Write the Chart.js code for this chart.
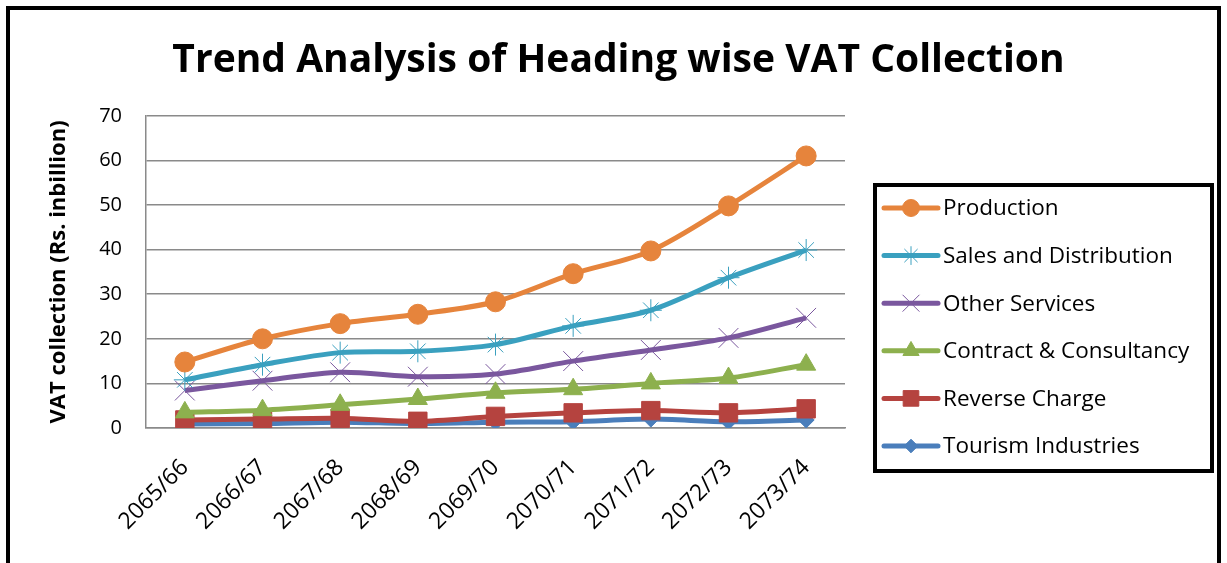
<!DOCTYPE html>
<html>
<head>
<meta charset="utf-8">
<script src="https://cdn.jsdelivr.net/npm/chart.js@4/dist/chart.umd.min.js"></script>
<style>
  html, body { margin: 0; padding: 0; background: #ffffff; }
  #wrap { width: 1227px; height: 563px; position: relative; }
</style>
</head>
<body>
<div id="wrap"><canvas id="c" width="1227" height="563"></canvas></div>
<script>
const categories = ['2065/66', '2066/67', '2067/68', '2068/69', '2069/70', '2070/71', '2071/72', '2072/73', '2073/74'];
const production = [14.8, 20.0, 23.4, 25.5, 28.3, 34.6, 39.7, 49.8, 61.0];
const salesDistribution = [10.8, 14.2, 16.9, 17.2, 18.7, 22.9, 26.4, 33.7, 39.9];
const otherServices = [8.4, 10.6, 12.5, 11.5, 12.1, 15.0, 17.5, 20.2, 24.7];
const contractConsultancy = [3.5, 4.0, 5.2, 6.5, 7.9, 8.7, 10.0, 11.2, 14.2];
const reverseCharge = [1.8, 2.0, 2.2, 1.5, 2.6, 3.4, 3.9, 3.4, 4.3];
const tourismIndustries = [0.9, 1.0, 1.3, 1.0, 1.3, 1.4, 2.0, 1.4, 1.8];
const seriesNames = ['Production', 'Sales and Distribution', 'Other Services', 'Contract & Consultancy', 'Reverse Charge', 'Tourism Industries'];
const yMin = 0, yMax = 70, yStep = 10;
const chartTitle = 'Trend Analysis of Heading wise VAT Collection';
const yTitle = 'VAT collection (Rs. inbillion)';

function ds(label, data, color, style, radius, filled, bw) {
  return {
    label, data,
    yAxisID: 'y',
    borderColor: color,
    backgroundColor: filled ? color : 'rgba(0,0,0,0)',
    pointStyle: style,
    pointRadius: radius,
    pointHoverRadius: radius,
    pointBorderColor: color,
    pointBackgroundColor: filled ? color : 'rgba(0,0,0,0)',
    pointBorderWidth: bw,
    borderWidth: 5,
    tension: 0.3,
    fill: false
  };
}

const datasets = [
  ds(seriesNames[0], production, '#E6843C', 'circle', 10, true, 1),
  ds(seriesNames[1], salesDistribution, '#3AA0BF', 'star', 11, false, 1),
  ds(seriesNames[2], otherServices, '#7A579E', 'crossRot', 14, false, 1),
  ds(seriesNames[3], contractConsultancy, '#8DB04E', 'triangle', 11, true, 1),
  ds(seriesNames[4], reverseCharge, '#B5433F', 'rect', 13, true, 1),
  ds(seriesNames[5], tourismIndustries, '#4A7EBB', 'rectRot', 8, true, 1)
];

const framePlugin = {
  id: 'frame',
  beforeDraw(chart) {
    const ctx = chart.ctx;
    ctx.save();
    ctx.fillStyle = '#ffffff';
    ctx.fillRect(0, 0, chart.width, chart.height);
    ctx.strokeStyle = '#000000';
    ctx.lineWidth = 4;
    ctx.strokeRect(8, 8, 1211, 600);
    ctx.restore();
  }
};

const legendPlugin = {
  id: 'boxLegend',
  afterDraw(chart) {
    const ctx = chart.ctx;
    ctx.save();
    ctx.strokeStyle = '#000000';
    ctx.lineWidth = 4;
    ctx.strokeRect(875, 185, 337, 286);
    const x0 = 884, x1 = 938, tx = 943;
    chart.data.datasets.forEach((d, i) => {
      const y = 208 + i * 47.6;
      ctx.strokeStyle = d.borderColor;
      ctx.lineWidth = 5;
      ctx.lineCap = 'round';
      ctx.beginPath();
      ctx.moveTo(x0, y);
      ctx.lineTo(x1, y);
      ctx.stroke();
      ctx.lineCap = 'butt';
      const opts = {
        pointStyle: d.pointStyle,
        radius: d.pointRadius * 0.85,
        borderWidth: d.pointBorderWidth,
        rotation: 0
      };
      ctx.fillStyle = d.pointBackgroundColor;
      ctx.strokeStyle = d.pointBorderColor;
      ctx.lineWidth = d.pointBorderWidth;
      if (Chart.helpers && Chart.helpers.drawPoint) {
        Chart.helpers.drawPoint(ctx, opts, (x0 + x1) / 2, y);
      }
      ctx.fillStyle = '#000000';
      ctx.font = '22.5px "Open Sans"';
      ctx.textBaseline = 'middle';
      ctx.textAlign = 'left';
      ctx.fillText(d.label, tx, y + 1);
    });
    ctx.restore();
  }
};

new Chart(document.getElementById('c'), {
  type: 'line',
  data: { labels: categories, datasets },
  plugins: [framePlugin, legendPlugin],
  options: {
    responsive: false,
    animation: false,
    devicePixelRatio: 1,
    layout: { padding: { left: 10, right: 0, top: 0, bottom: 0 } },
    plugins: {
      legend: { display: false },
      tooltip: { enabled: false },
      title: {
        display: true,
        text: chartTitle,
        color: '#000000',
        font: { family: '"Open Sans"', size: 39, weight: 'bold' },
        padding: { top: 37, bottom: 32 }
      }
    },
    scales: {
      x: {
        offset: true,
        afterFit(scale) { scale.height = 135; },
        grid: { display: false, drawTicks: false },
        border: { display: true, color: '#8a8a8a', width: 1.5 },
        ticks: {
          color: '#000000',
          font: { family: '"Open Sans"', size: 23 },
          maxRotation: 45, minRotation: 45,
          padding: 26,
          autoSkip: false
        }
      },
      y: {
        position: 'left',
        min: yMin, max: yMax,
        afterFit(scale) { scale.width = 136; },
        grid: { color: '#8a8a8a', lineWidth: 1.5, drawTicks: false },
        border: { display: true, color: '#8a8a8a', width: 1.5 },
        ticks: {
          stepSize: yStep,
          color: '#000000',
          font: { family: '"Open Sans"', size: 20 },
          padding: 24
        },
        title: {
          display: true,
          text: yTitle,
          color: '#000000',
          font: { family: '"Open Sans"', size: 22, weight: 'bold' },
          padding: { top: 36, bottom: 0 }
        }
      },
      legendSpace: {
        type: 'linear',
        position: 'right',
        display: true,
        afterFit(scale) { scale.width = 382; },
        grid: { display: false, drawTicks: false },
        border: { display: false },
        ticks: { display: false }
      }
    }
  }
});
</script>
</body>
</html>
